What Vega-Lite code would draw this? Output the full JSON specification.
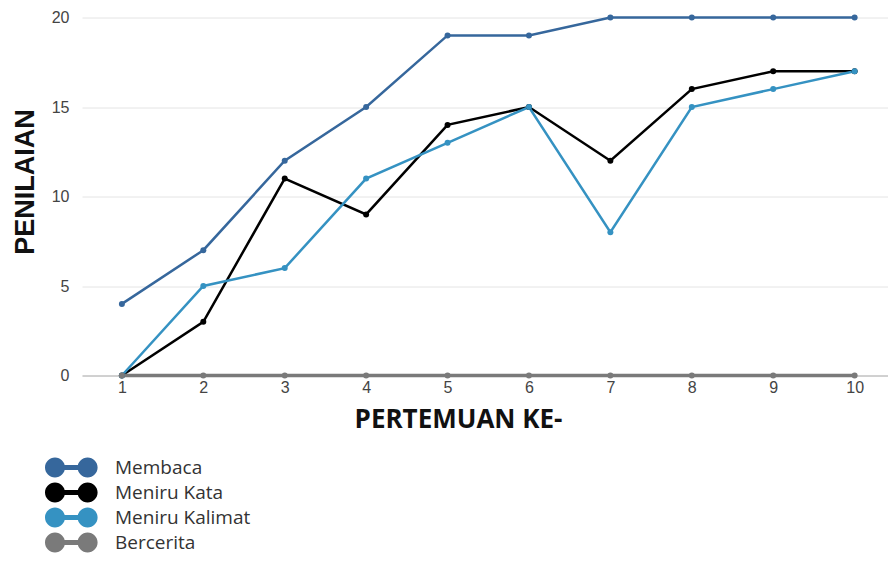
{
  "$schema": "https://vega.github.io/schema/vega-lite/v6.json",
  "width": 806,
  "height": 358,
  "autosize": {"type": "none"},
  "padding": {"left": 82, "top": 17.5, "right": 0, "bottom": 187.5},
  "background": "white",
  "config": {"view": {"stroke": null}},
  "data": {"values": [
    {"p": 1, "series": "Membaca", "v": 4},
    {"p": 2, "series": "Membaca", "v": 7},
    {"p": 3, "series": "Membaca", "v": 12},
    {"p": 4, "series": "Membaca", "v": 15},
    {"p": 5, "series": "Membaca", "v": 19},
    {"p": 6, "series": "Membaca", "v": 19},
    {"p": 7, "series": "Membaca", "v": 20},
    {"p": 8, "series": "Membaca", "v": 20},
    {"p": 9, "series": "Membaca", "v": 20},
    {"p": 10, "series": "Membaca", "v": 20},
    {"p": 1, "series": "Meniru Kata", "v": 0},
    {"p": 2, "series": "Meniru Kata", "v": 3},
    {"p": 3, "series": "Meniru Kata", "v": 11},
    {"p": 4, "series": "Meniru Kata", "v": 9},
    {"p": 5, "series": "Meniru Kata", "v": 14},
    {"p": 6, "series": "Meniru Kata", "v": 15},
    {"p": 7, "series": "Meniru Kata", "v": 12},
    {"p": 8, "series": "Meniru Kata", "v": 16},
    {"p": 9, "series": "Meniru Kata", "v": 17},
    {"p": 10, "series": "Meniru Kata", "v": 17},
    {"p": 1, "series": "Meniru Kalimat", "v": 0},
    {"p": 2, "series": "Meniru Kalimat", "v": 5},
    {"p": 3, "series": "Meniru Kalimat", "v": 6},
    {"p": 4, "series": "Meniru Kalimat", "v": 11},
    {"p": 5, "series": "Meniru Kalimat", "v": 13},
    {"p": 6, "series": "Meniru Kalimat", "v": 15},
    {"p": 7, "series": "Meniru Kalimat", "v": 8},
    {"p": 8, "series": "Meniru Kalimat", "v": 15},
    {"p": 9, "series": "Meniru Kalimat", "v": 16},
    {"p": 10, "series": "Meniru Kalimat", "v": 17},
    {"p": 1, "series": "Bercerita", "v": 0},
    {"p": 2, "series": "Bercerita", "v": 0},
    {"p": 3, "series": "Bercerita", "v": 0},
    {"p": 4, "series": "Bercerita", "v": 0},
    {"p": 5, "series": "Bercerita", "v": 0},
    {"p": 6, "series": "Bercerita", "v": 0},
    {"p": 7, "series": "Bercerita", "v": 0},
    {"p": 8, "series": "Bercerita", "v": 0},
    {"p": 9, "series": "Bercerita", "v": 0},
    {"p": 10, "series": "Bercerita", "v": 0}
  ]},
  "mark": {"type": "line", "point": {"filled": true, "size": 36}},
  "encoding": {
    "x": {
      "field": "p", "type": "quantitative",
      "scale": {"domain": [0.51, 10.41], "nice": false, "zero": false},
      "axis": {
        "title": "PERTEMUAN KE-",
        "values": [1, 2, 3, 4, 5, 6, 7, 8, 9, 10],
        "grid": false, "ticks": false,
        "domain": true, "domainColor": "#b0b0b0", "domainWidth": 1,
        "labelFont": "Liberation Sans", "labelFontSize": 16, "labelColor": "#444444",
        "labelPadding": 4,
        "titleFont": "Open Sans", "titleFontWeight": "bold", "titleFontSize": 26, "titleColor": "#111111",
        "titleX": 376, "titleY": 51.5, "titleBaseline": "alphabetic", "titleAlign": "center"
      }
    },
    "y": {
      "field": "v", "type": "quantitative",
      "scale": {"domain": [0, 20], "nice": false},
      "axis": {
        "title": "PENILAIAN",
        "values": [0, 5, 10, 15, 20],
        "grid": true, "gridColor": "#e4e4e4", "gridWidth": 1,
        "ticks": false, "domain": false,
        "labelFont": "Liberation Sans", "labelFontSize": 16, "labelColor": "#444444",
        "labelPadding": 13,
        "titleFont": "Liberation Sans", "titleFontWeight": "bold", "titleFontSize": 27, "titleColor": "#111111",
        "titleX": -48.7, "titleY": 164, "titleAngle": 270, "titleBaseline": "alphabetic", "titleAlign": "center"
      }
    },
    "color": {
      "field": "series", "type": "nominal",
      "scale": {
        "domain": ["Membaca", "Meniru Kata", "Meniru Kalimat", "Bercerita"],
        "range": ["#36679c", "#000000", "#3592c2", "#7a7a7a"]
      },
      "legend": {
        "title": null,
        "orient": "none",
        "legendX": -20.7,
        "legendY": 440,
        "padding": 0,
        "symbolType": "M-0.63,0 A1,1 0 1,1 -2.63,0 A1,1 0 1,1 -0.63,0 Z M2.63,0 A1,1 0 1,1 0.63,0 A1,1 0 1,1 2.63,0 Z M-1.63,-0.25 L1.63,-0.25 L1.63,0.25 L-1.63,0.25 Z",
        "symbolSize": 400,
        "symbolStrokeWidth": 0,
        "labelFont": "Open Sans", "labelFontSize": 19, "labelColor": "#333333",
        "labelOffset": 33.7,
        "rowPadding": 5,
        "encode": {
          "symbols": {"update": {
            "fill": {"scale": "color", "field": "value"},
            "stroke": {"value": "transparent"},
            "strokeWidth": {"value": 0},
            "opacity": {"value": 1}
          }}
        }
      }
    },
    "strokeWidth": {
      "condition": {"test": "datum.series === 'Bercerita'", "value": 3.5},
      "value": 2.5
    }
  }
}
